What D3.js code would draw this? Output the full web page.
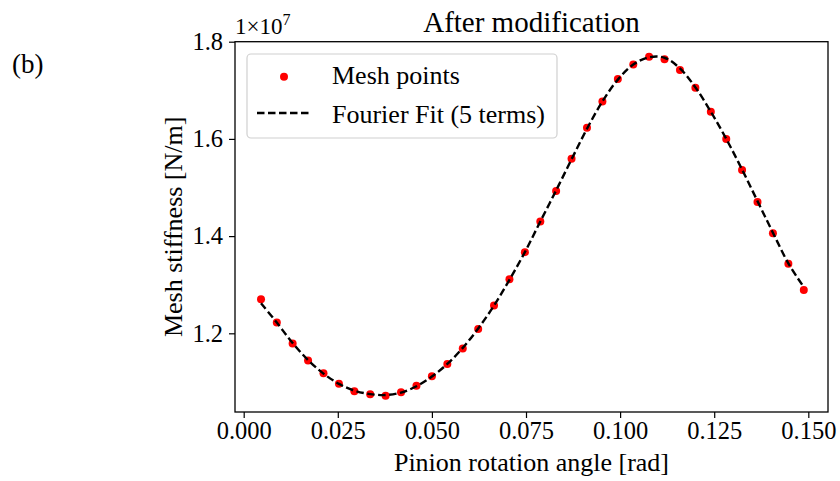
<!DOCTYPE html>
<html>
<head>
<meta charset="utf-8">
<script src="https://cdn.jsdelivr.net/npm/d3@7"></script>
<style>
  html, body { margin: 0; padding: 0; background: #ffffff; }
  svg { display: block; }
  text { font-family: "Liberation Serif", "Times New Roman", serif; fill: #000; }
</style>
</head>
<body>
<div id="chart"></div>
<script>
// ---- Data ----
const angles = [0.0046, 0.0088, 0.0130, 0.0171, 0.0212, 0.0253, 0.0294, 0.0336, 0.0377, 0.0418,
                0.0459, 0.0500, 0.0541, 0.0582, 0.0623, 0.0665, 0.0706, 0.0747, 0.0788, 0.0830,
                0.0871, 0.0912, 0.0953, 0.0994, 0.1035, 0.1077, 0.1118, 0.1159, 0.1200, 0.1241,
                0.1282, 0.1324, 0.1365, 0.1406, 0.1447, 0.1488];
const meshPoints = [1.270, 1.222, 1.179, 1.144, 1.118, 1.096, 1.081, 1.0745, 1.0716, 1.0786,
                    1.092, 1.1115, 1.137, 1.169, 1.209, 1.257, 1.311, 1.367, 1.430, 1.493,
                    1.559, 1.623, 1.677, 1.723, 1.753, 1.769, 1.764, 1.742, 1.705, 1.656,
                    1.600, 1.536, 1.470, 1.406, 1.343, 1.289];
const fitValues = [1.262, 1.222, 1.180, 1.145, 1.117, 1.096, 1.082, 1.075, 1.073, 1.078,
                   1.091, 1.111, 1.137, 1.170, 1.210, 1.257, 1.310, 1.367, 1.430, 1.494,
                   1.558, 1.621, 1.677, 1.722, 1.753, 1.768, 1.767, 1.745, 1.706, 1.656,
                   1.600, 1.537, 1.472, 1.407, 1.344, 1.295];
const xTicks = [0.000, 0.025, 0.050, 0.075, 0.100, 0.125, 0.150];
const yTicks = [1.2, 1.4, 1.6, 1.8];
const legendLabels = ["Mesh points", "Fourier Fit (5 terms)"];
const titleText = "After modification";
const xLabel = "Pinion rotation angle [rad]";
const yLabel = "Mesh stiffness [N/m]";
const panelLabel = "(b)";

// ---- Layout ----
const W = 840, H = 481;
const plot = { left: 235, right: 828, top: 41.7, bottom: 412 };

const svg = d3.select("#chart").append("svg").attr("width", W).attr("height", H);

const x = d3.scaleLinear().domain([-0.00231, 0.15523]).range([plot.left, plot.right]);
const y = d3.scaleLinear().domain([1.0381, 1.8]).range([plot.bottom, plot.top]);

// axes
const xAxis = d3.axisBottom(x).tickValues(xTicks).tickFormat(d3.format(".3f")).tickSize(6).tickPadding(4);
const yAxis = d3.axisLeft(y).tickValues(yTicks).tickFormat(d3.format(".1f")).tickSize(6).tickPadding(6);

const gx = svg.append("g").attr("transform", `translate(0,${plot.bottom})`).call(xAxis);
const gy = svg.append("g").attr("transform", `translate(${plot.left},0)`).call(yAxis);
[gx, gy].forEach(g => {
  g.select(".domain").remove();
  g.selectAll(".tick line").attr("stroke", "#000").attr("stroke-width", 1.2);
  g.selectAll(".tick text").style("font-family", '"Liberation Serif", serif').style("font-size", "24.5px").attr("fill", "#000");
});
gx.selectAll(".tick text").attr("dy", "0.71em");

// clip for data
svg.append("clipPath").attr("id", "clip").append("rect")
  .attr("x", plot.left).attr("y", plot.top).attr("width", plot.right - plot.left).attr("height", plot.bottom - plot.top);

// fit line
const data = angles.map((a, i) => ({ a, p: meshPoints[i], f: fitValues[i] }));
const line = d3.line().x(d => x(d.a)).y(d => y(d.f)).curve(d3.curveCatmullRom.alpha(0.5));

// points
svg.append("g").attr("clip-path", "url(#clip)")
  .selectAll("circle").data(data).enter().append("circle")
  .attr("cx", d => x(d.a)).attr("cy", d => y(d.p)).attr("r", 4).attr("fill", "#ff0000");

svg.append("path").datum(data).attr("clip-path", "url(#clip)")
  .attr("d", line).attr("fill", "none").attr("stroke", "#000")
  .attr("stroke-width", 2.4).attr("stroke-dasharray", "7.5,3.5");

// frame
svg.append("rect").attr("x", plot.left).attr("y", plot.top)
  .attr("width", plot.right - plot.left).attr("height", plot.bottom - plot.top)
  .attr("fill", "none").attr("stroke", "#000").attr("stroke-width", 1.3);

// legend
const lg = svg.append("g");
lg.append("rect").attr("x", 247).attr("y", 54).attr("width", 310).attr("height", 84)
  .attr("rx", 4).attr("fill", "#fff").attr("fill-opacity", 0.85).attr("stroke", "#d0d0d0").attr("stroke-width", 1.2);
lg.append("circle").attr("cx", 284).attr("cy", 76.7).attr("r", 4).attr("fill", "#ff0000");
lg.append("line").attr("x1", 257).attr("x2", 310).attr("y1", 113).attr("y2", 113)
  .attr("stroke", "#000").attr("stroke-width", 2.4).attr("stroke-dasharray", "7.5,3.5");
lg.append("text").attr("x", 332).attr("y", 84).style("font-size", "26px").text(legendLabels[0]);
lg.append("text").attr("x", 332).attr("y", 122.5).style("font-size", "26px").text(legendLabels[1]);

// title
svg.append("text").attr("x", (plot.left + plot.right) / 2).attr("y", 32)
  .attr("text-anchor", "middle").style("font-size", "29px").text(titleText);

// offset text 1×10^7
const off = svg.append("text").attr("x", 235).attr("y", 33.5).style("font-size", "23px");
off.append("tspan").text("1×10");
off.append("tspan").attr("dy", -9).style("font-size", "16px").text("7");

// axis labels
svg.append("text").attr("x", (plot.left + plot.right) / 2).attr("y", 471)
  .attr("text-anchor", "middle").style("font-size", "26px").text(xLabel);
svg.append("text").attr("transform", `translate(182,${(plot.top + plot.bottom) / 2}) rotate(-90)`)
  .attr("text-anchor", "middle").style("font-size", "26px").text(yLabel);

// panel label
svg.append("text").attr("x", 12).attr("y", 73).style("font-size", "27px").text(panelLabel);
</script>
</body>
</html>
